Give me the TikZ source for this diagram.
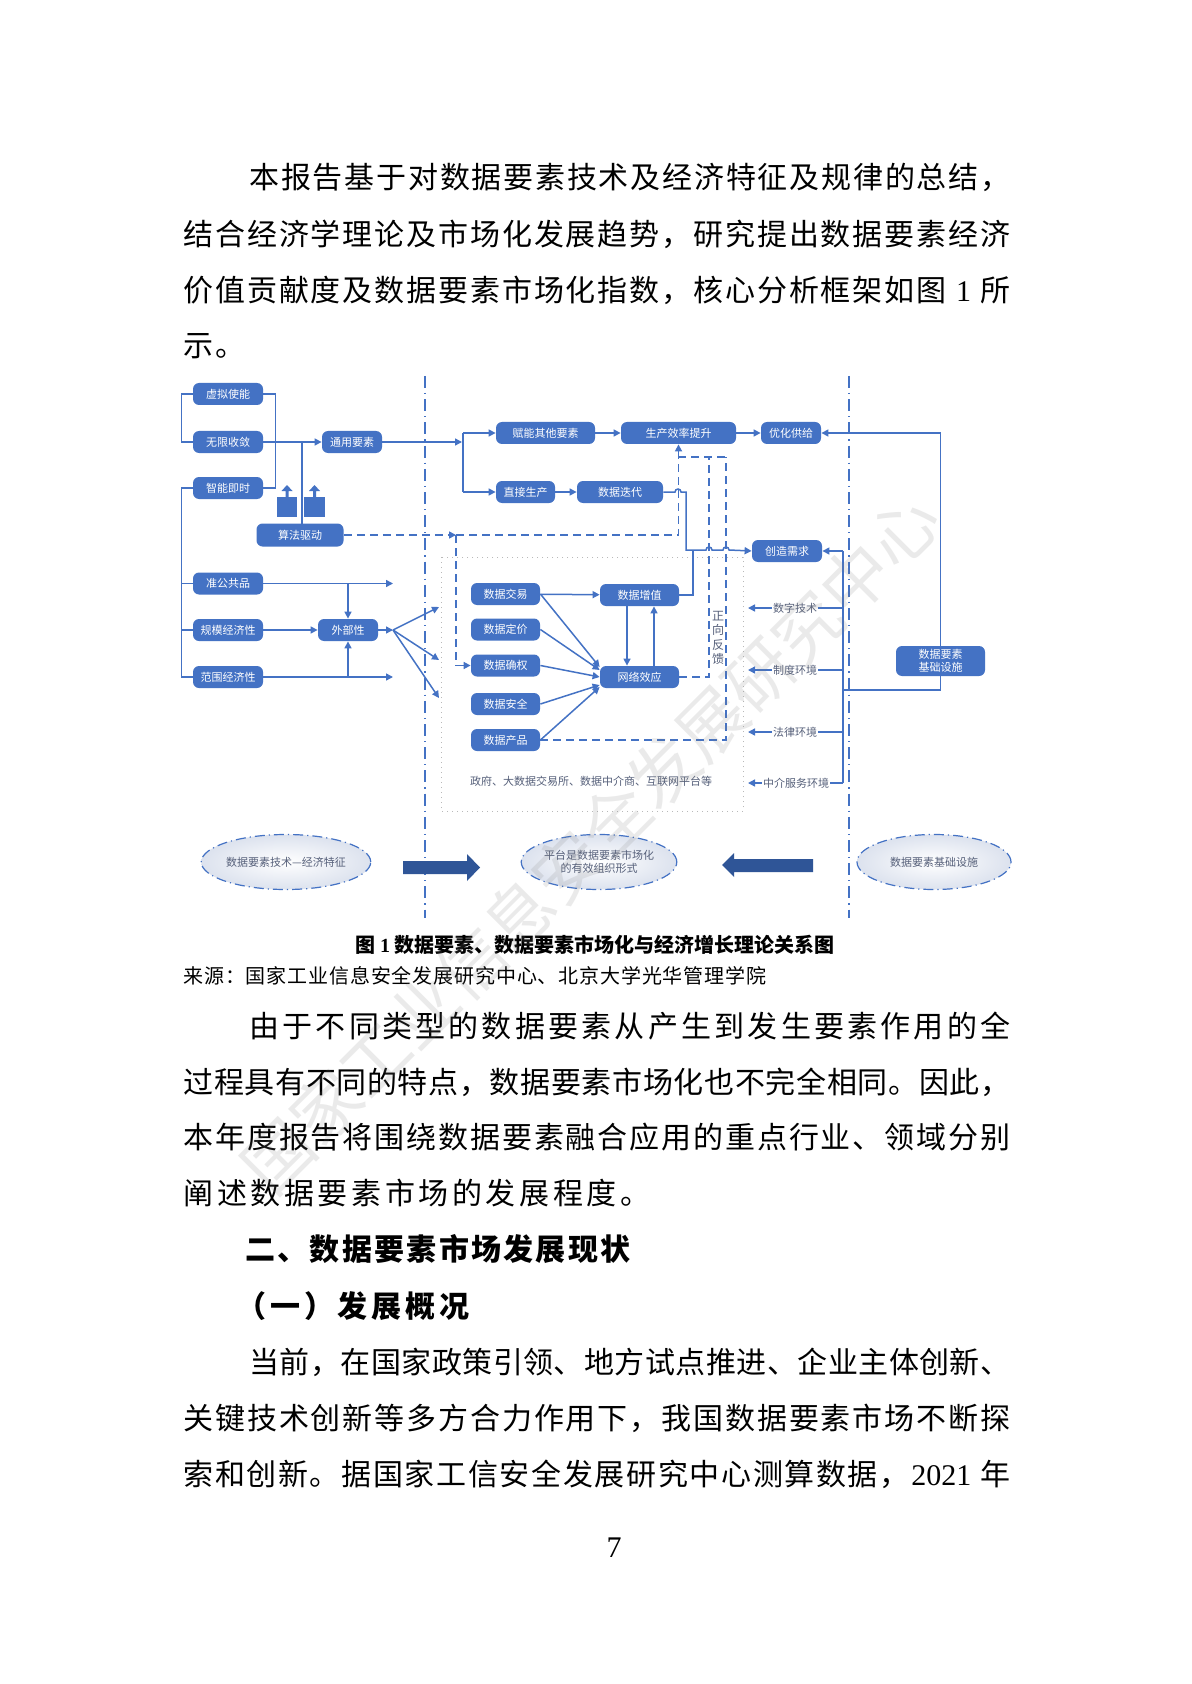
\documentclass[tikz,border=0pt]{standalone}
\usepackage{fontspec}
\setmainfont{Liberation Serif}
\newfontfamily\cjk{Noto Sans CJK SC}
\newfontfamily\lat{Liberation Serif}
\usetikzlibrary{arrows.meta,shapes.geometric}
\definecolor{boxblue}{HTML}{4472C4}
\definecolor{lnblue}{HTML}{4472C4}
\definecolor{arrblue}{HTML}{2F5597}
\definecolor{lblgray}{HTML}{56607A}
\definecolor{ellgray}{HTML}{DCE2EE}
\pgfdeclarelayer{bg}
\pgfsetlayers{bg,main}
\makeatletter
\newcommand\spreadline[2]{\makebox[#1][s]{\@tfor\my@c:=#2\do{\my@c\hfil}\unskip}}
\makeatother
\tikzset{
 bx/.style={fill=boxblue, rounded corners=3pt, text=white, font=\cjk\fontsize{5.5}{6.5}\selectfont, minimum height=11pt, inner sep=0pt, minimum width=35pt, align=center},
 ln/.style={draw=lnblue, line width=0.75pt},
 arr/.style={ln, -{Triangle[length=3.5pt,width=3.5pt]}},
 dln/.style={draw=lnblue, line width=0.8pt, dash pattern=on 4pt off 2.5pt},
 darr/.style={dln, -{Triangle[length=3.5pt,width=3.5pt]}},
 lbl/.style={font=\cjk\fontsize{5.5}{6.5}\selectfont, text=lblgray, fill=white, inner sep=0.6pt},
 body/.style={font=\cjk\fontsize{15}{18}\selectfont, inner sep=0pt, anchor=west},
 sepline/.style={draw=lnblue, line width=1pt, dash pattern=on 6pt off 2.5pt on 0.6pt off 2.5pt},
 ell/.style={ellipse, draw=lnblue, line width=0.6pt, dash pattern=on 5pt off 2pt on 0.6pt off 2pt, inner color=white, outer color=ellgray, font=\cjk\fontsize{5.5}{6.5}\selectfont, text=lblgray, align=center, inner sep=0pt, minimum width=77pt, minimum height=27.5pt},
}
\begin{document}
\begin{tikzpicture}[x=0.5pt,y=-0.5pt]
\useasboundingbox (0,0) rectangle (1191,1684);

% ---------- body text ----------
\node[body] (p1a) at (249,177) {\spreadline{380.5pt}{本报告基于对数据要素技术及经济特征及规律的总结，}};
\node[body] (p1b) at (183,234) {\spreadline{413.5pt}{结合经济学理论及市场化发展趋势，研究提出数据要素经济}};
\node[body] (p1c) at (183,290) {\spreadline{413.5pt}{价值贡献度及数据要素市场化指数，核心分析框架如图{{\lat\ 1\ }}所}};
\node[body] (p1d) at (183,346) {\spreadline{31pt}{示。}};

\node[font=\cjk\bfseries\fontsize{10}{12}\selectfont, inner sep=0pt] (cap) at (595,945) {图 {\lat\bfseries 1} 数据要素、数据要素市场化与经济增长理论关系图};
\node[font=\cjk\fontsize{10}{12}\selectfont, inner sep=0pt, anchor=west] (src) at (183,976) {\spreadline{291.5pt}{来源：国家工业信息安全发展研究中心、北京大学光华管理学院}};

\node[body] (p2a) at (249,1026) {\spreadline{380.5pt}{由于不同类型的数据要素从产生到发生要素作用的全}};
\node[body] (p2b) at (183,1082) {\spreadline{413.5pt}{过程具有不同的特点，数据要素市场化也不完全相同。因此，}};
\node[body] (p2c) at (183,1137) {\spreadline{413.5pt}{本年度报告将围绕数据要素融合应用的重点行业、领域分别}};
\node[body] (p2d) at (183,1193) {\spreadline{233.5pt}{阐述数据要素市场的发展程度。}};

\node[body, font=\cjk\bfseries\fontsize{15}{18}\selectfont] (h1) at (245,1249) {\spreadline{192.5pt}{二、数据要素市场发展现状}};
\node[body, font=\cjk\bfseries\fontsize{15}{18}\selectfont] (h2) at (236,1306) {\spreadline{116.5pt}{（一）发展概况}};

\node[body] (p3a) at (249,1362) {\spreadline{380.5pt}{当前，在国家政策引领、地方试点推进、企业主体创新、}};
\node[body] (p3b) at (183,1418) {\spreadline{413.5pt}{关键技术创新等多方合力作用下，我国数据要素市场不断探}};
\node[body] (p3c) at (183,1474) {\spreadline{413.5pt}{索和创新。据国家工信安全发展研究中心测算数据，{{\lat 2021\ }}年}};

\node[font=\lat\fontsize{15}{18}\selectfont, inner sep=0pt] (pg) at (614,1548) {7};

% ---------- diagram boxes ----------
\node[bx] (vs) at (228,394) {虚拟使能};
\node[bx] (wx) at (228,442) {无限收敛};
\node[bx] (zn) at (228,488) {智能即时};
\node[bx, minimum width=30pt] (gy) at (352,442) {通用要素};
\node[bx, minimum width=43.5pt, minimum height=11.5pt] (sf) at (300,535) {算法驱动};
\node[bx, minimum width=49.5pt] (fn) at (545.5,433) {赋能其他要素};
\node[bx, minimum width=57.5pt] (sc) at (678.5,433) {生产效率提升};
\node[bx, minimum width=29.5pt] (zj) at (525.5,492) {直接生产};
\node[bx, minimum width=43pt] (dd) at (620,492) {数据迭代};
\node[bx, minimum width=30pt] (yh) at (791,433) {优化供给};
\node[bx] (cz) at (787,551) {创造需求};
\node[bx] (gg) at (228,583.5) {准公共品};
\node[bx] (gm) at (228,630) {规模经济性};
\node[bx] (fw) at (228,677) {范围经济性};
\node[bx, minimum width=30pt] (wb) at (348,630) {外部性};
\node[bx, minimum width=34.5pt] (jy) at (505.5,594) {数据交易};
\node[bx, minimum width=34.5pt] (dj) at (505.5,629.5) {数据定价};
\node[bx, minimum width=34.5pt] (qq) at (505.5,665.5) {数据确权};
\node[bx, minimum width=34.5pt] (aq) at (505.5,704) {数据安全};
\node[bx, minimum width=34.5pt] (cp) at (505.5,740) {数据产品};
\node[bx, minimum width=39.5pt] (zz) at (639.5,595) {数据增值};
\node[bx, minimum width=39.5pt] (wl) at (639.5,677) {网络效应};
\node[bx, minimum width=44.5pt, minimum height=15pt] (jc) at (940.5,661) {数据要素\\基础设施};

\node[lbl] (t1) at (795,608) {数字技术};
\node[lbl] (t2) at (795,670) {制度环境};
\node[lbl] (t3) at (795,732) {法律环境};
\node[lbl] (t4) at (796,783) {中介服务环境};
\node[lbl, fill=none] (pl) at (591,781) {政府、大数据交易所、数据中介商、互联网平台等};
\node[font=\cjk\fontsize{6}{7.2}\selectfont, text=lblgray, align=center, inner sep=0pt] (zx) at (718,638) {正\\向\\反\\馈};

\node[ell] (e1) at (286,862) {数据要素技术—经济特征};
\node[ell] (e2) at (599,862) {平台是数据要素市场化\\的有效组织形式};
\node[ell] (e3) at (934,862) {数据要素基础设施};

% small block arrows
\fill[boxblue] (277,497) rectangle (297,517);
\fill[boxblue] (285.5,497) -- (285.5,491) -- (281.5,491) -- (287,485) -- (292.5,491) -- (288.5,491) -- (288.5,497) -- cycle;
\fill[boxblue] (304,497) rectangle (325,517);
\fill[boxblue] (313,497) -- (313,491) -- (309,491) -- (314.5,485) -- (320,491) -- (316,491) -- (316,497) -- cycle;

% big arrows
\fill[arrblue] (403,861) -- (467,861) -- (467,854) -- (480,867.5) -- (467,881) -- (467,874) -- (403,874) -- cycle;
\fill[arrblue] (813,859) -- (734,859) -- (734,853) -- (722,865) -- (734,877) -- (734,872) -- (813,872) -- cycle;

\begin{pgfonlayer}{bg}
\fill[white] (0,0) rectangle (1191,1684);
% separators and platform box
\draw[sepline] (425,376) -- (425,918);
\draw[sepline] (849,376) -- (849,918);
\draw[gray!55, line width=0.5pt, dotted] (441,557) rectangle (743,811);

% left group
\draw[ln] (vs.west) -- ++(-11,0) |- (wx.west);
\draw[ln] (vs.east) -- ++(12,0) |- (zn.east);
\draw[arr] (wx.east) -- (gy.west);
\draw[ln] (302,523.5) -- (302,442);
\draw[arr] (gy.east) -- (462,442);
\draw[ln] (463,433) -- (463,492);
\draw[arr] (463,433) -- (fn.west);
\draw[arr] (463,492) -- (zj.west);
\draw[arr] (fn) -- (sc);
\draw[arr] (sc) -- (yh);
\draw[arr] (zj) -- (dd);

\draw[ln] (zn.west) -- ++(-11,0) |- (fw.west);
\draw[ln] (gg.west) -- ++(-11,0);
\draw[ln] (gm.west) -- ++(-11,0);
\draw[arr] (gg.east) -- (393,583.5);
\draw[arr] (348,583.5) -- (wb.north);
\draw[arr] (fw.east) -- (393,677);
\draw[arr] (348,677) -- (wb.south);
\draw[arr] (gm) -- (wb);
\draw[arr] (wb.east) -- (393,630);
\draw[arr] (393,630) -- (439,607);
\draw[arr] (393,630) -- (439,660);
\draw[arr] (393,630) -- (439,698);

% dashed algorithm lines
\draw[darr] (sf.east) -- (456,535);
\draw[darr] (456,535) -| (sc.south);
\draw[darr] (456,535) |- (qq.west);
\draw[dln] (wl.east) -| (709,457);
\draw[dln] (cp.east) -| (726,457);
\draw[dln] (678,457) -- (726,457);

% solid line with bridges
\draw[arr] (dd.east) -- (675,492) arc[start angle=180,end angle=0,radius=1.5pt] -- (686,492) -- (686,550) -- (706,550) arc[start angle=180,end angle=0,radius=1.5pt] -- (723,550) arc[start angle=180,end angle=0,radius=1.5pt] -- (cz.west);
\draw[ln] (zz.east) -| (693,550);

% middle
\draw[arr] (jy) -- (zz);
\draw[arr] (jy.east) -- ([yshift=5pt]wl.west);
\draw[arr] (dj.east) -- ([yshift=3.5pt]wl.west);
\draw[arr] (qq.east) -- ([yshift=0pt]wl.west);
\draw[arr] (aq.east) -- ([yshift=-4pt]wl.west);
\draw[arr] (cp.east) -- ([yshift=-5pt]wl.west);
\draw[arr] ([xshift=-6.25pt]zz.south) -- ([xshift=-6.25pt]wl.north);
\draw[arr] ([xshift=7.25pt]wl.north) -- ([xshift=7.25pt]zz.south);

% right side
\draw[arr] (jc.north) |- (yh.east);
\draw[ln] (jc.south) -- (940.5,690) -- (843,690);
\draw[ln] (843,551) -- (843,783);
\draw[arr] (843,551) -- (cz.east);
\draw[arr] (843,608) -- (748,608);
\draw[arr] (843,670) -- (748,670);
\draw[arr] (843,732) -- (748,732);
\draw[arr] (843,783) -- (748,783);
\end{pgfonlayer}

% watermark
\node[rotate=45, font=\cjk\fontsize{34}{36}\selectfont, text=gray, opacity=0.16, inner sep=0pt] (wm) at (591,843) {国家工业信息安全发展研究中心};
\end{tikzpicture}
\end{document}
